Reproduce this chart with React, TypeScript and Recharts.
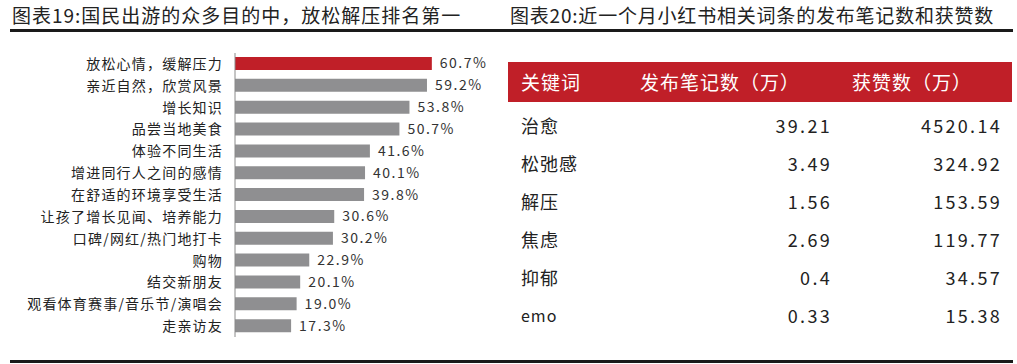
import { BarChart, Bar, XAxis, YAxis, Cell, LabelList } from "recharts";

// 图表19
const purposes = [
  "放松心情，缓解压力",
  "亲近自然，欣赏风景",
  "增长知识",
  "品尝当地美食",
  "体验不同生活",
  "增进同行人之间的感情",
  "在舒适的环境享受生活",
  "让孩了增长见闻、培养能力",
  "口碑/网红/热门地打卡",
  "购物",
  "结交新朋友",
  "观看体育赛事/音乐节/演唱会",
  "走亲访友",
];
const shares = [60.7, 59.2, 53.8, 50.7, 41.6, 40.1, 39.8, 30.6, 30.2, 22.9, 20.1, 19.0, 17.3];

// 图表20
const keywords = ["治愈", "松弛感", "解压", "焦虑", "抑郁", "emo"];
const notes = ["39.21", "3.49", "1.56", "2.69", "0.4", "0.33"];
const likes = ["4520.14", "324.92", "153.59", "119.77", "34.57", "15.38"];
const headers = ["关键词", "发布笔记数（万）", "获赞数（万）"];

const RED = "#C01F28";
const GRAY = "#8F8F91";
const FONT = '"Noto Sans CJK SC", "Noto Sans", sans-serif';

const barData = purposes.map((name, i) => ({ name, value: shares[i] }));

export default function App() {
  return (
    <div
      style={{
        position: "absolute",
        left: 0,
        top: 0,
        width: 1017,
        height: 364,
        background: "#fff",
        fontFamily: FONT,
        overflow: "hidden",
      }}
    >
      {/* titles */}
      <div style={{ position: "absolute", left: 12, top: 3, fontSize: 19, letterSpacing: 1, color: "#222", lineHeight: "24px", whiteSpace: "nowrap" }}>
        图表19:国民出游的众多目的中，放松解压排名第一
      </div>
      <div style={{ position: "absolute", left: 510, top: 3, fontSize: 19, letterSpacing: 0.8, color: "#222", lineHeight: "24px", whiteSpace: "nowrap" }}>
        图表20:近一个月小红书相关词条的发布笔记数和获赞数
      </div>
      <div style={{ position: "absolute", left: 10, top: 29, width: 1003, height: 2.5, background: "#1a1a1a" }} />
      <div style={{ position: "absolute", left: 10, top: 360, width: 1003, height: 2.5, background: "#1a1a1a" }} />

      {/* bar chart */}
      <div style={{ position: "absolute", left: 0, top: 0 }}>
        <BarChart
          width={500}
          height={364}
          data={barData}
          layout="vertical"
          margin={{ top: 53, right: 38, bottom: 27, left: 0 }}
          barSize={13}
        >
          <XAxis type="number" domain={[0, 70]} hide />
          <YAxis
            type="category"
            dataKey="name"
            width={235}
            interval={0}
            tickLine={false}
            tickSize={0}
            tickMargin={12}
            axisLine={{ stroke: "#8a8a8a" }}
            tick={{ fontSize: 14, fill: "#222", fontFamily: FONT, letterSpacing: 1.2 }}
          />
          <Bar dataKey="value" isAnimationActive={false}>
            {barData.map((d, i) => (
              <Cell key={d.name} fill={i === 0 ? RED : GRAY} />
            ))}
            <LabelList
              dataKey="value"
              position="right"
              offset={8}
              formatter={(v: number) => v.toFixed(1) + "%"}
              style={{ fontSize: 14, fill: "#333", fontFamily: FONT, letterSpacing: 1.5 }}
            />
          </Bar>
        </BarChart>
      </div>

      {/* table */}
      <div style={{ position: "absolute", left: 508, top: 62, width: 504, height: 40, background: RED }} />
      <div style={{ position: "absolute", left: 521, top: 70, fontSize: 19, color: "#fff", lineHeight: "24px", letterSpacing: 1 }}>{headers[0]}</div>
      <div style={{ position: "absolute", left: 640, top: 70, fontSize: 19, color: "#fff", lineHeight: "24px", letterSpacing: 1, whiteSpace: "nowrap" }}>{headers[1]}</div>
      <div style={{ position: "absolute", left: 852, top: 70, fontSize: 19, color: "#fff", lineHeight: "24px", letterSpacing: 1, whiteSpace: "nowrap" }}>{headers[2]}</div>
      {keywords.map((k, i) => {
        const top = 113 + i * 38;
        return (
          <div key={k}>
            <div style={{ position: "absolute", left: 521, top, fontSize: k === "emo" ? 16 : 18, color: "#222", lineHeight: "24px", letterSpacing: 1 }}>{k}</div>
            <div style={{ position: "absolute", right: 1017 - 832, top, fontSize: 18, color: "#222", lineHeight: "24px", letterSpacing: 2.3 }}>{notes[i]}</div>
            <div style={{ position: "absolute", right: 1017 - 1002, top, fontSize: 18, color: "#222", lineHeight: "24px", letterSpacing: 2.3 }}>{likes[i]}</div>
          </div>
        );
      })}
    </div>
  );
}
